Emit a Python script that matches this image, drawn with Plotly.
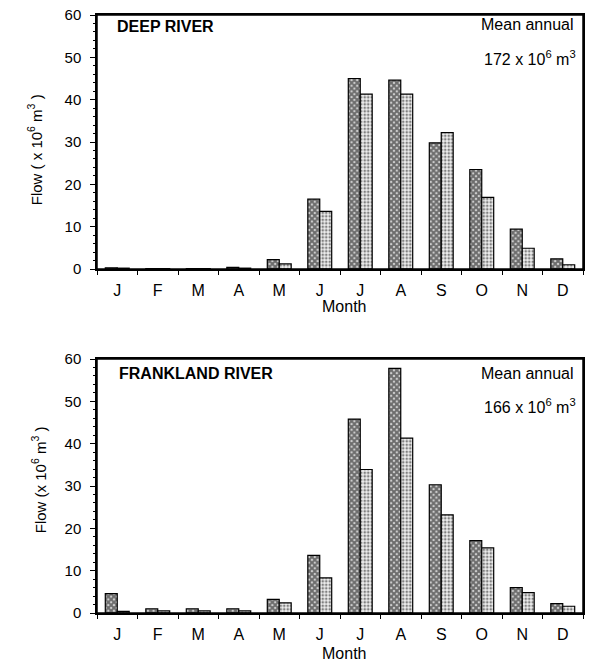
import plotly.graph_objects as go

# ---------------- data ----------------
months = ["Jan", "Feb", "Mar", "Apr", "May", "Jun", "Jul", "Aug", "Sep", "Oct", "Nov", "Dec"]
month_letters = ["J", "F", "M", "A", "M", "J", "J", "A", "S", "O", "N", "D"]

deep_dark = [0.3, 0.1, 0.1, 0.4, 2.2, 16.5, 45.0, 44.6, 29.8, 23.5, 9.4, 2.4]
deep_light = [0.2, 0.1, 0.1, 0.2, 1.2, 13.6, 41.3, 41.3, 32.2, 16.9, 4.9, 1.0]

frank_dark = [4.6, 1.0, 1.0, 1.0, 3.2, 13.6, 45.8, 57.8, 30.3, 17.1, 6.0, 2.2]
frank_light = [0.4, 0.5, 0.5, 0.5, 2.4, 8.3, 33.9, 41.3, 23.2, 15.4, 4.8, 1.6]

y_ticks = [0, 10, 20, 30, 40, 50, 60]

FONT = "Liberation Sans, Arial, Helvetica, sans-serif"

fig = go.Figure()

def add_pair(dark, light, xa, ya):
    fig.add_trace(go.Bar(
        x=months, y=dark, xaxis=xa, yaxis=ya, name="Series 1", showlegend=False,
        marker=dict(color="white", line=dict(color="black", width=1.2),
                    pattern=dict(shape="x", fgcolor="#000", bgcolor="#d8d8d8",
                                 size=4, solidity=0.75)),
    ))
    fig.add_trace(go.Bar(
        x=months, y=light, xaxis=xa, yaxis=ya, name="Series 2", showlegend=False,
        marker=dict(color="white", line=dict(color="black", width=1.2),
                    pattern=dict(shape=".", fgcolor="#111", bgcolor="#eee",
                                 size=3.5, solidity=0.45)),
    ))

add_pair(deep_dark, deep_light, "x", "y")
add_pair(frank_dark, frank_light, "x2", "y2")

# paper geometry: plot area x 97..585, y 15..613
def px(x):
    return (x - 97) / 488.0

def py(y):
    return (613 - y) / 598.0

top_dom = [py(269), 1.0]
bot_dom = [0.0, py(359)]

xaxis_common = dict(
    type="category", categoryorder="array", categoryarray=months,
    tickmode="array", tickvals=months, ticktext=month_letters,
    tickson="boundaries", ticks="outside", ticklen=4, tickwidth=1, tickcolor="black",
    showline=True, linecolor="black", linewidth=1.5, mirror=True,
    showgrid=False, zeroline=False, range=[-0.5, 11.5],
    tickfont=dict(family=FONT, size=16, color="black"),
    ticklabelstandoff=6,
)
yaxis_common = dict(
    range=[0, 60], tickmode="array", tickvals=y_ticks,
    ticks="outside", ticklen=5, tickwidth=1, tickcolor="black",
    minor=dict(dtick=2, ticks="outside", ticklen=2, tickcolor="black", tickwidth=1),
    showline=True, linecolor="black", linewidth=1.5, mirror=True,
    showgrid=False, zeroline=False,
    tickfont=dict(family=FONT, size=15, color="black"),
    ticklabelstandoff=6,
)

fig.update_layout(
    width=590, height=661,
    margin=dict(l=97, r=5, t=15, b=48),
    paper_bgcolor="white", plot_bgcolor="white",
    barmode="group", bargap=0.41, bargroupgap=0.0,
    showlegend=False,
    xaxis=dict(domain=[0, 1], anchor="y", **xaxis_common),
    yaxis=dict(domain=top_dom, anchor="x", **yaxis_common),
    xaxis2=dict(domain=[0, 1], anchor="y2", **xaxis_common),
    yaxis2=dict(domain=bot_dom, anchor="x2", **yaxis_common),
    font=dict(family=FONT, color="black"),
)

# frame around each panel
for xr, yr in (("x domain", "y domain"), ("x2 domain", "y2 domain")):
    fig.add_shape(type="rect", xref=xr, yref=yr, x0=0, x1=1, y0=0, y1=1,
                  line=dict(color="black", width=1.5), fillcolor="rgba(0,0,0,0)",
                  layer="above")

ann = []
def a(text, x, y, xanchor="center", yanchor="middle", size=16, angle=0):
    ann.append(dict(text=text, x=px(x), y=py(y), xref="paper", yref="paper",
                    xanchor=xanchor, yanchor=yanchor, showarrow=False, textangle=angle,
                    font=dict(family=FONT, size=size, color="black")))

# Top panel
a("<b>DEEP RIVER</b>", 115, 27, xanchor="left", size=16)
a("Mean annual", 578, 25, xanchor="right", size=16)
a("172 x 10<sup>6</sup> m<sup>3</sup>", 580, 58, xanchor="right", size=16)
a("Flow ( x 10<sup>6</sup> m<sup>3</sup> )", 35, 150, size=15, angle=-90)
a("Month", 345, 306, size=16)

# Bottom panel
a("<b>FRANKLAND RIVER</b>", 117, 373, xanchor="left", size=16)
a("Mean annual", 578, 373, xanchor="right", size=16)
a("166 x 10<sup>6</sup> m<sup>3</sup>", 580, 406, xanchor="right", size=16)
a("Flow (x 10<sup>6</sup> m<sup>3</sup> )", 38, 480, size=15, angle=-90)
a("Month", 345, 653, size=16)

fig.update_layout(annotations=ann)

fig.write_html(
    "out.html",
    config={"displayModeBar": False},
    post_script="document.body.style.margin='0';document.body.style.overflow='hidden';",
)
